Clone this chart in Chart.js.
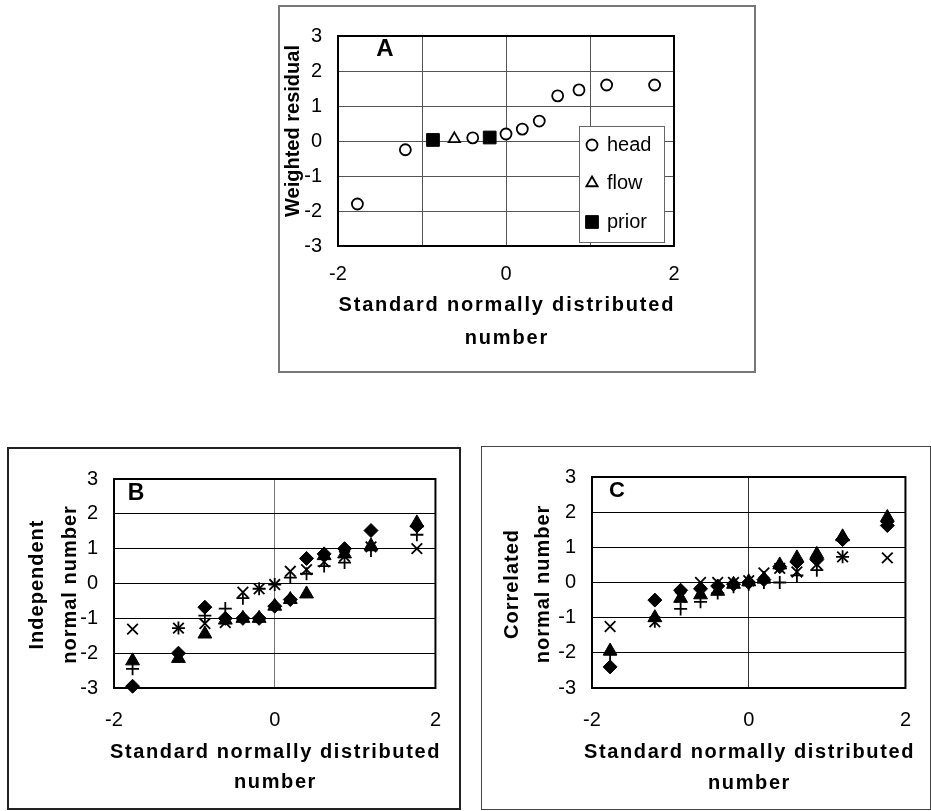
<!DOCTYPE html>
<html>
<head>
<meta charset="utf-8">
<title>Normal probability plots</title>
<script src="https://cdn.jsdelivr.net/npm/chart.js@4/dist/chart.umd.min.js"></script>
<style>
  body { margin: 0; background: #fff; width: 931px; height: 811px; position: relative; overflow: hidden; }
  canvas, .frame { position: absolute; }
  .frame { box-sizing: border-box; pointer-events: none; }
</style>
</head>
<body>
<canvas id="chartA" width="478" height="368" style="left:278px;top:5px"></canvas>
<div class="frame" style="left:278px;top:5px;width:478px;height:368px;border:2px solid #777"></div>
<canvas id="chartB" width="454" height="363" style="left:7px;top:447px"></canvas>
<div class="frame" style="left:7px;top:447px;width:454px;height:363px;border:2px solid #222"></div>
<canvas id="chartC" width="450" height="364" style="left:481px;top:446px"></canvas>
<div class="frame" style="left:481px;top:446px;width:450px;height:364px;border:1px solid #444"></div>
<script>
// standard normal quantiles for the 13 ranked values
var quantiles = [-1.769, -1.198, -0.869, -0.615, -0.396, -0.194, 0, 0.194, 0.396, 0.615, 0.869, 1.198, 1.769];

// A: weighted residuals by observation type (null = other type at that rank)
var headResidual  = [-1.8, -0.25, null, null, 0.09, null, 0.2, 0.34, 0.57, 1.29, 1.46, 1.6, 1.6];
var flowResidual  = [null, null, null, 0.06, null, null, null, null, null, null, null, null, null];
var priorResidual = [null, null, 0.03, null, null, 0.1, null, null, null, null, null, null, null];

// B: independent normal numbers, four generated sets
var indDiamond  = [-2.95, -2.0, -0.68, -1.0, -1.0, -1.0, -0.65, -0.46, 0.72, 0.85, 1.0, 1.52, 1.65];
var indTriangle = [-2.22, -2.15, -1.45, -1.05, -1.0, -1.0, -0.65, -0.46, -0.3, 0.8, 0.85, 1.08, 1.74];
var indCross    = [-1.31, -1.28, -1.15, -1.12, -0.25, -0.15, -0.03, 0.35, 0.4, 0.62, 0.78, 1.05, 1.0];
var indPlus     = [-2.45, -1.28, -0.92, -0.72, -0.42, -0.15, -0.03, 0.17, 0.28, 0.5, 0.6, 0.95, 1.4];

// C: correlated normal numbers, four generated sets
var corDiamond  = [-2.4, -0.5, -0.22, -0.18, -0.1, -0.05, 0.0, 0.08, 0.45, 0.58, 0.65, 1.22, 1.62];
var corTriangle = [-1.95, -1.0, -0.45, -0.35, -0.25, -0.05, 0.02, 0.1, 0.5, 0.7, 0.8, 1.3, 1.85];
var corCross    = [-1.25, -1.12, -0.42, 0.0, 0.0, 0.0, 0.05, 0.27, 0.4, 0.3, 0.52, 0.73, 0.7];
var corPlus     = [-2.05, -1.1, -0.75, -0.55, -0.3, -0.12, -0.05, 0.0, 0.0, 0.2, 0.35, 0.73, 1.72];

var xTicks = [-2, 0, 2];
var yTicks = [-3, -2, -1, 0, 1, 2, 3];

var family = "'Liberation Sans', Arial, sans-serif";
Chart.defaults.font.family = family;
Chart.defaults.font.size = 20;
Chart.defaults.color = '#000';

function toPoints(vals) {
	var pts = [];
	quantiles.forEach(function (q, i) {
		if (vals[i] !== null) pts.push({ x: q, y: vals[i] });
	});
	return pts;
}

function markerSet(label, vals, style, radius, filled) {
	return {
		label: label,
		data: toPoints(vals),
		pointStyle: style,
		pointRadius: radius,
		pointHoverRadius: radius,
		pointBackgroundColor: filled ? '#000' : '#fff',
		pointBorderColor: '#000',
		pointBorderWidth: filled ? 1 : 1.8,
		clip: false
	};
}

// plot frame, panel letter, axis titles and the boxed legend
var panelText = {
	id: 'panelText',
	beforeDatasetsDraw: function (chart) {
		var a = chart.chartArea, ctx = chart.ctx;
		ctx.save();
		ctx.strokeStyle = '#000';
		ctx.lineWidth = 2;
		ctx.strokeRect(a.left, a.top, a.right - a.left, a.bottom - a.top);
		ctx.restore();
	},
	afterDatasetsDraw: function (chart, args, opts) {
		if (!opts.legend) return;
		var a = chart.chartArea, ctx = chart.ctx, lg = opts.legend;
		var lx = a.left + lg.x, ly = a.top + lg.y;
		ctx.save();
		ctx.fillStyle = '#fff';
		ctx.strokeStyle = '#666';
		ctx.lineWidth = 1;
		ctx.fillRect(lx, ly, lg.w, lg.h);
		ctx.strokeRect(lx + 0.5, ly + 0.5, lg.w, lg.h);
		chart.data.datasets.forEach(function (ds, i) {
			var ry = ly + lg.rows[i];
			ctx.fillStyle = ds.pointBackgroundColor;
			ctx.strokeStyle = ds.pointBorderColor;
			ctx.lineWidth = ds.pointBorderWidth;
			Chart.helpers.drawPoint(ctx, {
				pointStyle: ds.pointStyle,
				radius: lg.radius[i],
				borderWidth: ds.pointBorderWidth,
				rotation: 0
			}, lx + 13, ry);
			ctx.fillStyle = '#000';
			ctx.font = '20px ' + family;
			ctx.textAlign = 'left';
			ctx.textBaseline = 'middle';
			ctx.fillText(ds.label, lx + 28, ry);
		});
		ctx.restore();
	},
	afterDraw: function (chart, args, opts) {
		var a = chart.chartArea, ctx = chart.ctx;
		var cx = (a.left + a.right) / 2, cy = (a.top + a.bottom) / 2;
		ctx.save();
		ctx.fillStyle = '#000';
		ctx.textAlign = 'center';
		ctx.textBaseline = 'middle';

		ctx.font = 'bold ' + opts.letterSize + 'px ' + family;
		ctx.fillText(opts.letter, a.left + opts.letterX, a.top + opts.letterY);

		ctx.font = 'bold 20px ' + family;
		ctx.letterSpacing = opts.xSpacing + 'px';
		opts.xTitle.forEach(function (line, i) {
			ctx.fillText(line, cx + opts.xSpacing / 2, a.bottom + opts.xTitleY[i]);
		});

		ctx.letterSpacing = opts.ySpacing + 'px';
		opts.yTitle.forEach(function (line, i) {
			ctx.save();
			ctx.translate(a.left + opts.yTitleX[i], cy + opts.yTitleDy);
			ctx.rotate(-Math.PI / 2);
			ctx.fillText(line, opts.ySpacing / 2, 0);
			ctx.restore();
		});
		ctx.restore();
	}
};

// area: chart rectangle inside the canvas as [left, top, right, bottom]
function makeChart(id, datasets, p) {
	var canvas = document.getElementById(id);
	var a = p.area;
	return new Chart(canvas, {
		type: 'scatter',
		data: { datasets: datasets },
		plugins: [panelText],
		options: {
			responsive: false,
			animation: false,
			layout: { padding: { left: 0, top: a[1], right: canvas.width - a[2], bottom: 0 } },
			plugins: {
				legend: { display: false },
				tooltip: { enabled: false },
				panelText: p.text
			},
			scales: {
				x: {
					type: 'linear',
					min: xTicks[0],
					max: xTicks[xTicks.length - 1],
					afterFit: function (s) { s.height = canvas.height - a[3]; },
					border: { display: false },
					grid: { color: p.xGrid, lineWidth: 1, drawTicks: false },
					ticks: {
						stepSize: p.xStep,
						padding: p.xPad,
						autoSkip: false,
						maxRotation: 0,
						callback: function (v) { return xTicks.indexOf(v) >= 0 ? v : ''; }
					}
				},
				y: {
					min: yTicks[0],
					max: yTicks[yTicks.length - 1],
					afterFit: function (s) { s.width = a[0]; },
					border: { display: false },
					grid: { color: p.yGrid, lineWidth: 1, drawTicks: false },
					ticks: { stepSize: 1, padding: 16 }
				}
			}
		}
	});
}

var xTitle = ['Standard normally distributed', 'number'];

makeChart('chartA', [
	markerSet('head', headResidual, 'circle', 5.5, false),
	markerSet('flow', flowResidual, 'triangle', 6.5, false),
	markerSet('prior', priorResidual, 'rect', 9, true)
], {
	area: [60, 31, 396, 241],
	xGrid: '#555', yGrid: '#555', xStep: 1, xPad: 16,
	text: {
		letter: 'A', letterSize: 24, letterX: 47, letterY: 13,
		xTitle: xTitle, xTitleY: [59, 92], xSpacing: 1.8,
		yTitle: ['Weighted residual'], yTitleX: [-45], yTitleDy: -10, ySpacing: 0,
		legend: { x: 241, y: 90, w: 85, h: 116, rows: [19, 57, 96], radius: [5.5, 6.5, 9] }
	}
});

var bcMarkers = function (d, t, c, pl) {
	return [
		markerSet('diamond', d, 'rectRot', 7, true),
		markerSet('triangle', t, 'triangle', 8, true),
		markerSet('cross', c, 'crossRot', 7.5, false),
		markerSet('plus', pl, 'cross', 6.5, false)
	];
};

makeChart('chartB', bcMarkers(indDiamond, indTriangle, indCross, indPlus), {
	area: [107, 32, 430, 241],
	xGrid: '#777', yGrid: '#000', xStep: 2, xPad: 20,
	text: {
		letter: 'B', letterSize: 23, letterX: 22, letterY: 15,
		xTitle: xTitle, xTitleY: [64, 94], xSpacing: 1.6,
		yTitle: ['Independent', 'normal number'], yTitleX: [-77, -44], yTitleDy: 1.5, ySpacing: 1
	}
});

makeChart('chartC', bcMarkers(corDiamond, corTriangle, corCross, corPlus), {
	area: [111, 31, 435, 242],
	xGrid: '#333', yGrid: '#000', xStep: 2, xPad: 20,
	text: {
		letter: 'C', letterSize: 22, letterX: 25, letterY: 14,
		xTitle: xTitle, xTitleY: [64, 95], xSpacing: 1.6,
		yTitle: ['Correlated', 'normal number'], yTitleX: [-80, -49], yTitleDy: 2, ySpacing: 1
	}
});
</script>
</body>
</html>
